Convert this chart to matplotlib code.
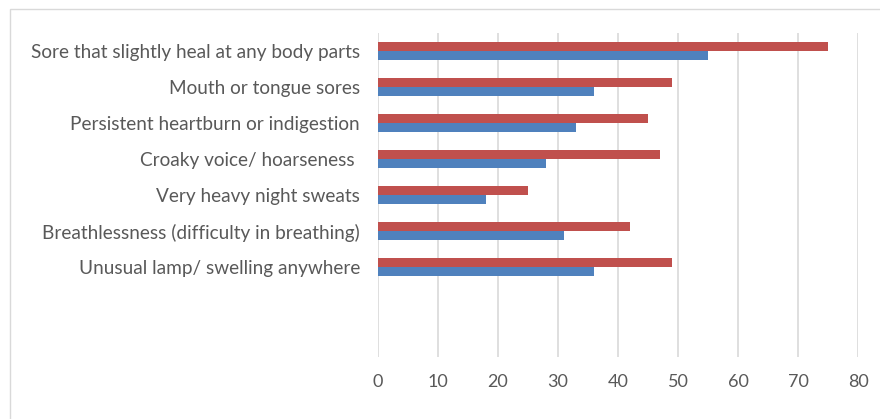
import matplotlib.pyplot as plt
import numpy as np
from matplotlib.patches import Rectangle

plt.rcParams['font.family'] = ['Lato', 'DejaVu Sans']

symptoms = ["Sore that slightly heal at any body parts",
            "Mouth or tongue sores",
            "Persistent heartburn or indigestion",
            "Croaky voice/ hoarseness ",
            "Very heavy night sweats",
            "Breathlessness (difficulty in breathing)",
            "Unusual lamp/ swelling anywhere",
            "",
            ""]
red_vals = [75, 49, 45, 47, 25, 42, 49]
blue_vals = [55, 36, 33, 28, 18, 31, 36]
xticks = [0, 10, 20, 30, 40, 50, 60, 70, 80]

red = "#C0504D"
blue = "#4F81BD"
txt = "#595959"

fig = plt.figure(figsize=(8.8, 4.19), dpi=100)
ax = fig.add_axes([378/880, 1-357/419, 480/880, 324/419])

# light frame around the chart area
fig.patches.append(Rectangle((10/880, -0.1), 1.0, 1-9/419+0.1,
                             transform=fig.transFigure, fill=False,
                             edgecolor="#d9d9d9", lw=1.0))

n = len(symptoms)
y = np.arange(n)
h = 0.25
yr = y[:len(red_vals)] - h/2
yb = y[:len(blue_vals)] + h/2
ax.barh(yr, red_vals, height=h, color=red, zorder=3)
ax.barh(yb, blue_vals, height=h, color=blue, zorder=3)

ax.set_ylim(n-0.5, -0.5)
ax.set_xlim(0, 80)
ax.set_xticks(xticks)
ax.set_yticks(y)
ax.set_yticklabels(symptoms)
ax.grid(axis="x", color="#d9d9d9", lw=1.2, zorder=0)
ax.tick_params(axis="both", length=0, colors=txt)
ax.tick_params(axis="y", pad=13, labelsize=13.7)
ax.tick_params(axis="x", pad=12, labelsize=13)
for s in ax.spines.values():
    s.set_visible(False)

fig.savefig("out.png", dpi=100)
